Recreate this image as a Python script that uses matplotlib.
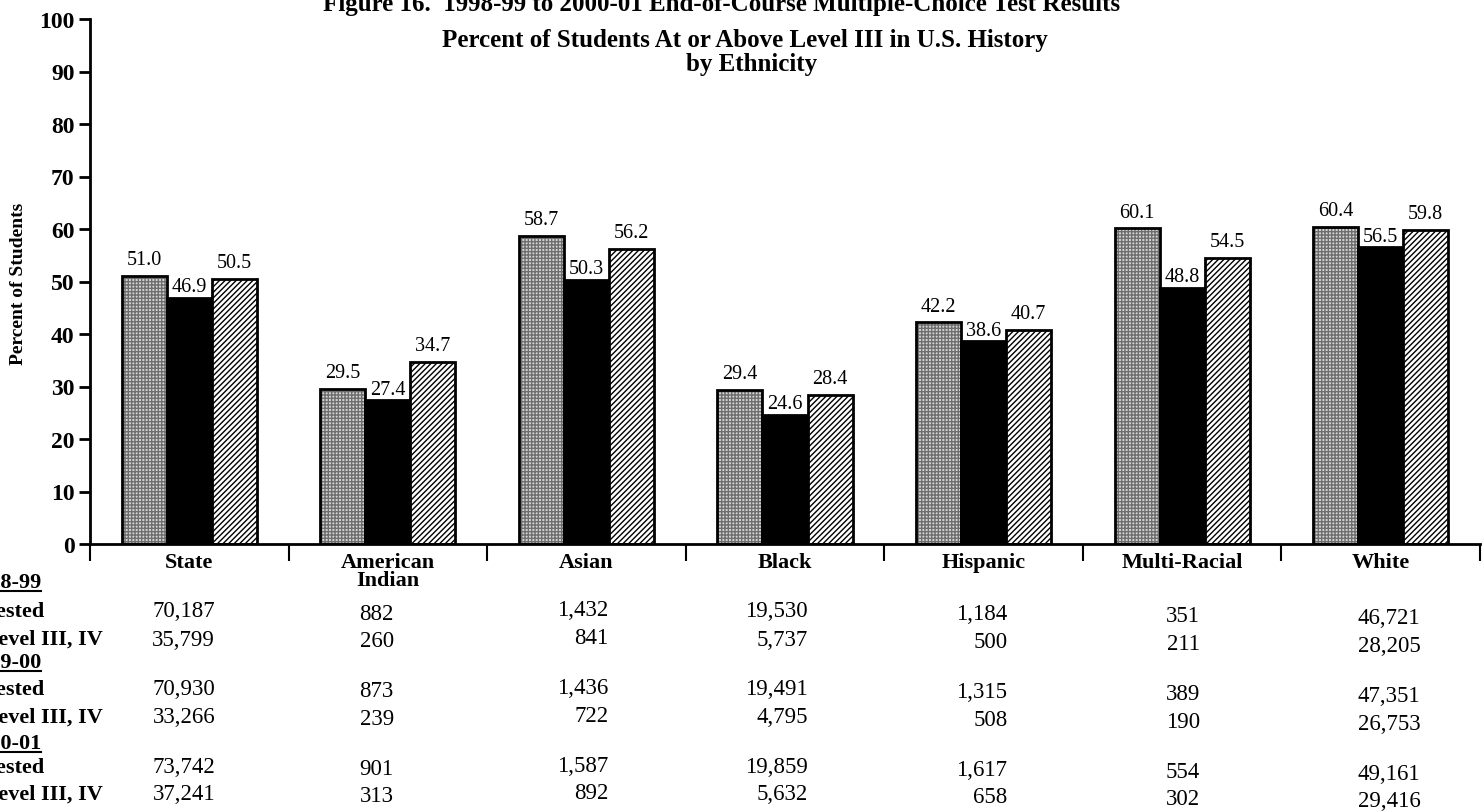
import numpy as np
import matplotlib.pyplot as plt
from matplotlib import transforms
from matplotlib.lines import Line2D

plt.rcParams['font.family'] = ['Liberation Serif', 'DejaVu Serif']
plt.rcParams['hatch.linewidth'] = 1.0

# data
groups = ['State', 'American\nIndian', 'Asian', 'Black', 'Hispanic', 'Multi-Racial', 'White']
pct_99 = [51.0, 29.5, 58.7, 29.4, 42.2, 60.1, 60.4]
pct_00 = [46.9, 27.4, 50.3, 24.6, 38.6, 48.8, 56.5]
pct_01 = [50.5, 34.7, 56.2, 28.4, 40.7, 54.5, 59.8]

years = ['1998-99', '1999-00', '2000-01']
row_names = ['# Tested', '# Level III, IV']
tested_99 = ['70,187', '882', '1,432', '19,530', '1,184', '351', '46,721']
level_99 = ['35,799', '260', '841', '5,737', '500', '211', '28,205']
tested_00 = ['70,930', '873', '1,436', '19,491', '1,315', '389', '47,351']
level_00 = ['33,266', '239', '722', '4,795', '508', '190', '26,753']
tested_01 = ['73,742', '901', '1,587', '19,859', '1,617', '554', '49,161']
level_01 = ['37,241', '313', '892', '5,632', '658', '302', '29,416']

W, H = 1484, 812
fig = plt.figure(figsize=(W / 100, H / 100), dpi=100)
ax = fig.add_axes([90 / W, 1 - 545 / H, 1390 / W, 525 / H])

x = np.arange(len(groups))
w = 0.227

# 1998-99 : gray grid
ax.bar(x - w, pct_99, w, color='#d4d4d4', edgecolor='#6e6e6e', hatch='+++++', linewidth=0)
ax.bar(x - w, pct_99, w, fill=False, edgecolor='black', linewidth=2)
# 1999-00 : black
ax.bar(x, pct_00, w, color='black', edgecolor='black', linewidth=2)
# 2000-01 : diagonal lines
ax.bar(x + w, pct_01, w, color='white', edgecolor='black', hatch='//////', linewidth=2)

for i in range(len(groups)):
    ax.text(x[i] - w, pct_99[i] + 1.3, f'{pct_99[i]:.1f}', ha='center', va='bottom', fontsize=14.5)
    ax.text(x[i], pct_00[i] + 0.3, f'{pct_00[i]:.1f}', ha='center', va='bottom', fontsize=14.5,
            bbox=dict(facecolor='white', edgecolor='none', pad=0.5))
    ax.text(x[i] + w, pct_01[i] + 1.3, f'{pct_01[i]:.1f}', ha='center', va='bottom', fontsize=14.5)

ax.set_ylim(0, 100)
ax.set_xlim(-0.5, len(groups) - 0.5)
ax.set_yticks(np.arange(0, 101, 10))
ax.tick_params(axis='y', direction='out', length=8, width=2, labelsize=17, pad=3)
for t in ax.get_yticklabels():
    t.set_fontweight('bold')

ax.set_xticks(np.arange(-0.5, len(groups), 1.0))
ax.set_xticklabels([])
ax.tick_params(axis='x', which='major', direction='out', length=12, width=1.5)
ax.set_xticks(x, minor=True)
ax.set_xticklabels(groups, minor=True, fontsize=16, fontweight='bold', linespacing=0.85)
ax.tick_params(axis='x', which='minor', length=0, pad=6)

for s in ['top', 'right']:
    ax.spines[s].set_visible(False)
ax.spines['left'].set_linewidth(2)
ax.spines['bottom'].set_linewidth(2)

fig.text(19 / W, 1 - 284 / H, 'Percent of Students', rotation=90, fontsize=14,
         fontweight='bold', ha='center', va='center')

# title (top line is cut off in the scan)
fig.text(722 / W, 1 - 4 / H, 'Figure 16.  1998-99 to 2000-01 End-of-Course Multiple-Choice Test Results',
         fontsize=18, fontweight='bold', ha='center', va='center')
fig.text(745 / W, 1 - 40 / H, 'Percent of Students At or Above Level III in U.S. History',
         fontsize=18, fontweight='bold', ha='center', va='center')
fig.text(752 / W, 1 - 64 / H, 'by Ethnicity', fontsize=18, fontweight='bold', ha='center', va='center')

# table under the chart
trans = transforms.blended_transform_factory(ax.transData, fig.transFigure)
rows = [tested_99, level_99, tested_00, level_00, tested_01, level_01]
row_y = [612, 640, 690, 718, 768, 795]
year_y = [583, 663, 744]
col_right = [0.13, 0.03, 0.11, 0.115, 0.12, 0.09, 0.2]
col_shift = [0, 2, -1, 0, 3, 5, 7]

for r, vals in enumerate(rows):
    for j, v in enumerate(vals):
        ax.text(x[j] + col_right[j], 1 - (row_y[r] + col_shift[j]) / H, v, ha='right', va='center',
                fontsize=16.5, transform=trans)

year_texts = []
for k in range(3):
    t = fig.text(-33 / W, 1 - year_y[k] / H, years[k], fontsize=16, fontweight='bold', va='center')
    year_texts.append(t)
    for m in range(2):
        fig.text(-33 / W, 1 - row_y[2 * k + m] / H, row_names[m], fontsize=16, fontweight='bold',
                 va='center')

fig.canvas.draw()
for t in year_texts:
    bb = t.get_window_extent()
    fig.add_artist(Line2D([bb.x0 / W, bb.x1 / W], [(bb.y0 + 1) / H, (bb.y0 + 1) / H],
                          transform=fig.transFigure, color='black', linewidth=1.5))

fig.savefig('out.png', dpi=100)
